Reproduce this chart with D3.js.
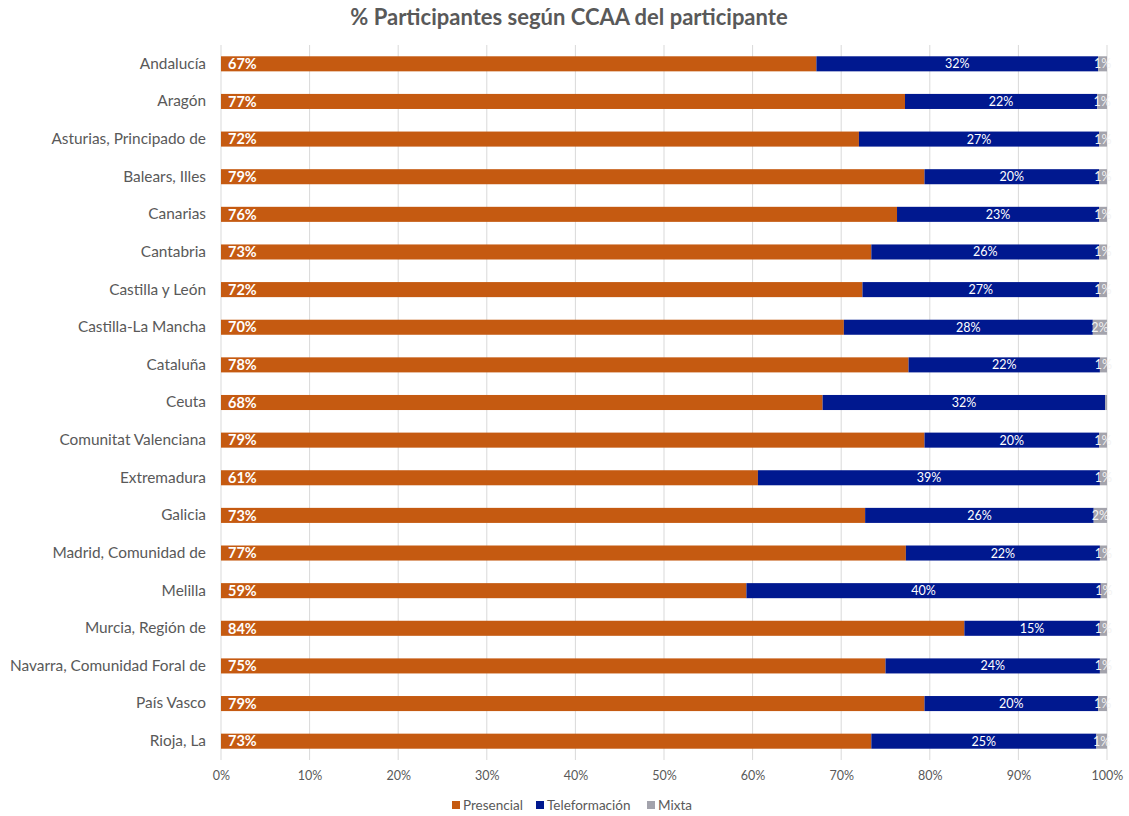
<!DOCTYPE html>
<html><head><meta charset="utf-8">
<script src="https://cdn.jsdelivr.net/npm/d3@7"></script>
<style>body{margin:0;background:#fff;} text{font-family:Lato,"Open Sans",sans-serif;}</style>
</head><body><svg id="c" width="1129" height="816"></svg>
<script>
const categories = ["Andalucía","Aragón","Asturias, Principado de","Balears, Illes","Canarias","Cantabria","Castilla y León","Castilla-La Mancha","Cataluña","Ceuta","Comunitat Valenciana","Extremadura","Galicia","Madrid, Comunidad de","Melilla","Murcia, Región de","Navarra, Comunidad Foral de","País Vasco","Rioja, La"];
const presencial   = [67.2,77.2,72.0,79.4,76.3,73.4,72.4,70.3,77.6,67.9,79.4,60.6,72.7,77.3,59.3,83.9,75.0,79.4,73.4];
const teleformacion= [31.8,21.7,27.1,19.7,22.8,25.7,26.7,28.1,21.6,31.9,19.7,38.6,25.8,21.9,40.0,15.3,24.2,19.6,25.4];
const mixta        = [1.0,1.1,0.9,0.9,0.9,0.9,0.9,1.6,0.8,0.2,0.9,0.8,1.5,0.8,0.7,0.8,0.8,1.0,1.2];
const seriesNames = ["Presencial","Teleformación","Mixta"];
const colors = ["#C55A11","#00188F","#A3A3AC"];
const tickValues = [0,10,20,30,40,50,60,70,80,90,100];

const svg = d3.select("#c");
const x = d3.scaleLinear().domain([0,100]).range([221,1107]);
const y = d3.scaleBand().domain(categories).range([45,760]).paddingInner(0.6).paddingOuter(0.3);

svg.append("text").attr("x",569).attr("y",25).attr("text-anchor","middle")
  .attr("font-size",22).attr("font-weight","bold").attr("fill","#595959")
  .text("% Participantes según CCAA del participante");

// grid
svg.append("g").selectAll("line").data(tickValues).join("line")
  .attr("x1",d=>x(d)).attr("x2",d=>x(d)).attr("y1",45).attr("y2",760)
  .attr("stroke","#D9D9D9").attr("stroke-width",1);

// x axis
const xa = svg.append("g").attr("transform","translate(0,760)")
  .call(d3.axisBottom(x).tickValues(tickValues).tickFormat(d=>d+"%").tickSize(0).tickPadding(11));
xa.select(".domain").remove();
xa.selectAll("text").attr("font-size",12.5).attr("fill","#595959").style("font-family","Lato,'Open Sans',sans-serif");

// y axis
const ya = svg.append("g").attr("transform","translate(221,0)")
  .call(d3.axisLeft(y).tickSize(0).tickPadding(15));
ya.select(".domain").remove();
ya.selectAll("text").attr("font-size",15.4).attr("fill","#595959").style("font-family","Lato,'Open Sans',sans-serif");

const rows = categories.map((c,i)=>({c, v:[presencial[i],teleformacion[i],mixta[i]]}));
const stack = d3.stack().keys([0,1,2]).value((d,k)=>d.v[k]);
const stacked = stack(rows);

stacked.forEach((layer,k)=>{
  const g = svg.append("g");
  g.selectAll("rect").data(layer).join("rect")
    .attr("x",d=>x(d[0])).attr("width",d=>x(d[1])-x(d[0]))
    .attr("y",d=>y(d.data.c)).attr("height",y.bandwidth())
    .attr("fill",colors[k]);
});
// labels
stacked.forEach((layer,k)=>{
  const g = svg.append("g");
  g.selectAll("text").data(layer.filter(d=>d.data.v[k]>=0.5)).join("text")
    .attr("x",d=> k===0 ? x(d[0])+7 : (x(d[0])+x(d[1]))/2)
    .attr("y",d=>y(d.data.c)+y.bandwidth()/2)
    .attr("dy","0.36em")
    .attr("text-anchor",k===0?"start":"middle")
    .attr("font-size",k===0?14.5:12.5)
    .attr("font-weight",k===0?"bold":"normal")
    .attr("fill",k===2?"#F2F2F2":"#fff")
    .text(d=>Math.round(d.data.v[k])+"%");
});

// legend
const legX = [452,536,647];
const lg = svg.append("g");
seriesNames.forEach((s,i)=>{
  lg.append("rect").attr("x",legX[i]).attr("y",801).attr("width",8).attr("height",8).attr("fill",colors[i]);
  lg.append("text").attr("x",legX[i]+11).attr("y",805).attr("dy","0.36em").attr("font-size",13.5).attr("fill","#595959").text(s);
});
</script></body></html>
